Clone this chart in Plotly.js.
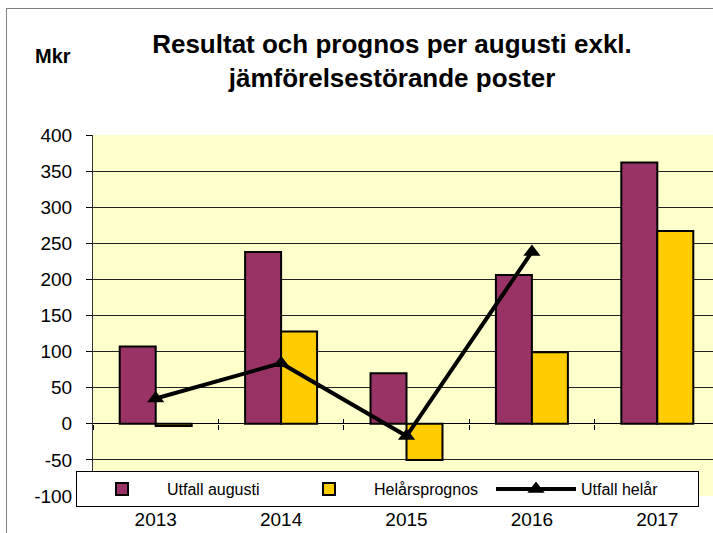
<!DOCTYPE html>
<html>
<head>
<meta charset="utf-8">
<script src="https://cdn.plot.ly/plotly-3.0.1.min.js"></script>
<style>
  html, body { margin: 0; padding: 0; background: #ffffff; overflow: hidden; width: 713px; height: 533px; }
  #frame { position: absolute; left: 6px; top: 8px; width: 800px; height: 600px; border: 1px solid #808080; box-sizing: border-box; }
  #chart { position: absolute; left: 0; top: 0; }
</style>
</head>
<body>
<div id="frame"></div>
<div id="chart"></div>
<script>
const years = ['2013', '2014', '2015', '2016', '2017'];
const utfallAugusti = [107, 238, 70, 206, 362];
const helarsprognos = [-3, 128, -50, 99, 267];
const utfallHelar = [35, 84, -17, 238, null];
const yTicks = [-100, -50, 0, 50, 100, 150, 200, 250, 300, 350, 400];

const FONT = 'Liberation Sans, Arial, sans-serif';

const traces = [
  {
    type: 'bar', name: 'Utfall augusti', x: years, y: utfallAugusti,
    marker: { color: '#993366', line: { color: '#000000', width: 2 } },
    hoverinfo: 'none'
  },
  {
    type: 'bar', name: 'Helårsprognos', x: years, y: helarsprognos,
    marker: { color: '#FFCC00', line: { color: '#000000', width: 2 } },
    hoverinfo: 'none'
  },
  {
    type: 'scatter', mode: 'lines+markers', name: 'Utfall helår', x: years, y: utfallHelar,
    line: { color: '#000000', width: 4 },
    marker: { symbol: 'triangle-up', size: 15, color: '#000000' },
    hoverinfo: 'none'
  },
  { type: 'scatter', x: years, y: utfallAugusti, xaxis: 'x2', mode: 'none', showlegend: false, hoverinfo: 'none' },
  { type: 'scatter', x: years, y: utfallAugusti, xaxis: 'x3', mode: 'none', showlegend: false, hoverinfo: 'none' }
];

const layout = {
  width: 730, height: 533,
  margin: { l: 93, r: 10, t: 135, b: 37 },
  paper_bgcolor: 'rgba(0,0,0,0)',
  plot_bgcolor: '#FFFFCC',
  font: { family: FONT, color: '#000000', size: 19 },
  title: {
    text: 'Resultat och prognos per augusti exkl.<br>jämförelsestörande poster',
    font: { family: FONT, size: 26, weight: 'bold', color: '#000000' },
    xref: 'container', x: 392 / 730, xanchor: 'center',
    yref: 'container', y: 1 - 53 / 533, yanchor: 'top',
    automargin: false
  },
  barmode: 'group',
  bargap: 0.426,
  bargroupgap: 0,
  showlegend: true,
  legend: {
    orientation: 'h',
    x: (76 - 93) / 627, xanchor: 'left',
    y: (496 - 507) / 361, yanchor: 'bottom',
    bgcolor: '#ffffff', bordercolor: '#000000', borderwidth: 1,
    font: { family: FONT, size: 16, color: '#000000' },
    entrywidth: 112,
    itemwidth: 80,
    traceorder: 'normal'
  },
  xaxis: {
    type: 'category',
    range: [-0.5, 4.5],
    showgrid: false, zeroline: false, showline: false,
    ticks: '',
    ticklabelstandoff: 10,
    tickfont: { family: FONT, size: 19, color: '#000000' },
    fixedrange: true
  },
  xaxis2: {
    type: 'category', overlaying: 'x', anchor: 'free', position: 0.2,
    range: [-0.5, 4.5], tickson: 'boundaries', ticks: 'outside', ticklen: 5,
    tickcolor: '#000000', tickwidth: 1, showticklabels: false, showgrid: false,
    showline: false, zeroline: false, fixedrange: true
  },
  xaxis3: {
    type: 'category', overlaying: 'x', anchor: 'free', position: 0.2,
    range: [-0.5, 4.5], tickson: 'boundaries', ticks: 'inside', ticklen: 5,
    tickcolor: '#000000', tickwidth: 1, showticklabels: false, showgrid: false,
    showline: false, zeroline: false, fixedrange: true
  },
  yaxis: {
    range: [-100, 400],
    tickvals: yTicks,
    ticktext: yTicks.map(String),
    showgrid: true, gridcolor: '#222222', gridwidth: 1,
    zeroline: true, zerolinecolor: '#000000', zerolinewidth: 1,
    showline: true, linecolor: '#333333', linewidth: 1,
    ticks: 'outside', ticklen: 6, tickcolor: '#000000',
    ticklabelstandoff: 10,
    tickfont: { family: FONT, size: 19, color: '#000000' },
    fixedrange: true
  },
  annotations: [
    {
      text: 'Mkr', showarrow: false,
      xref: 'paper', x: (33 - 93) / 627, xanchor: 'left',
      yref: 'paper', y: (496 - 56) / 361, yanchor: 'middle',
      font: { family: FONT, size: 20, weight: 'bold', color: '#000000' }
    }
  ]
};

Plotly.newPlot('chart', traces, layout, { displayModeBar: false, staticPlot: true });
</script>
</body>
</html>
